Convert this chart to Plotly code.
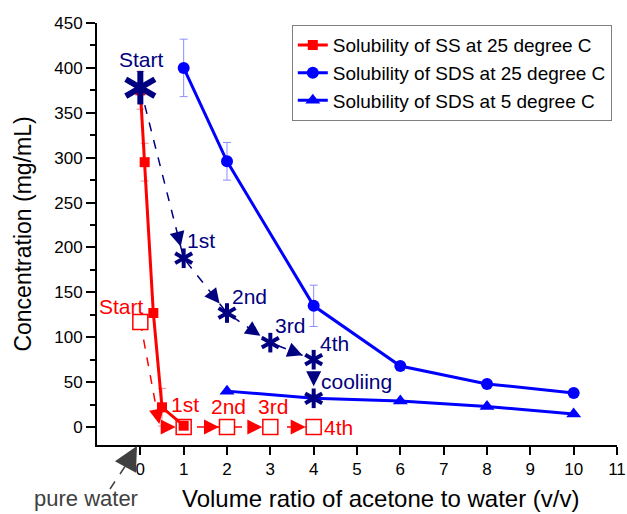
import math
import plotly.graph_objects as go

# ---- data -------------------------------------------------------------
# Solubility of SS at 25 degree C
ss_x = [0, 0.1, 0.3, 0.5, 1]
ss_y = [375, 295, 127, 22, 1.5]
ss_err = [21, 21, 0, 21, 0]

# Solubility of SDS at 25 degree C
sds25_x = [1, 2, 4, 6, 8, 10]
sds25_y = [400, 296, 135, 68, 48, 38]
sds25_err = [32, 21, 23, 0, 0, 0]

# Solubility of SDS at 5 degree C
sds5_x = [2, 4, 6, 8, 10]
sds5_y = [40, 32, 29, 23, 14.5]

# SDS concentration along the washing steps, then cooling
sds_step_x = [0, 1, 2, 3, 4, 4]
sds_step_y = [378, 188, 127, 94, 75, 32]
sds_step_labels = ["Start", "1st", "2nd", "3rd", "4th", "cooliing"]

# SS concentration along the washing steps (route bends at x = 0.45)
ss_route_x = [0, 0.45, 1, 2, 3, 4]
ss_route_y = [117, 0, 0, 0, 0, 0]
ss_step_x = [0, 1, 2, 3, 4]
ss_step_y = [117, 0, 0, 0, 0]
ss_step_labels = ["Start", "1st", "2nd", "3rd", "4th"]

x_ticks = list(range(0, 12))

# ---- style ------------------------------------------------------------
RED = "#FF0000"
BLUE = "#0000FF"
NAVY = "#000080"
GREY = "#404040"
FONT = "Arial, Liberation Sans, sans-serif"

W, H = 627, 514
M_L, M_R, M_T, M_B = 97, 10, 23, 69
X_RANGE = (-1, 11)
Y_RANGE = (-20, 450)
PLOT_W = W - M_L - M_R
PLOT_H = H - M_T - M_B


def to_px(x, y):
    px = M_L + (x - X_RANGE[0]) / (X_RANGE[1] - X_RANGE[0]) * PLOT_W
    py = M_T + (Y_RANGE[1] - y) / (Y_RANGE[1] - Y_RANGE[0]) * PLOT_H
    return px, py


def paper(px, py):
    return (px - M_L) / PLOT_W, (M_T + PLOT_H - py) / PLOT_H


fig = go.Figure()

# SS washing route: dashed red line with open squares
fig.add_trace(go.Scatter(
    x=ss_route_x, y=ss_route_y, mode="lines",
    line=dict(color=RED, width=1.5, dash="dash"),
    showlegend=False, hoverinfo="skip"))
fig.add_trace(go.Scatter(
    x=ss_step_x, y=ss_step_y, mode="markers",
    marker=dict(symbol="square", size=15, color="white",
                line=dict(color=RED, width=1.5)),
    showlegend=False, hoverinfo="skip"))

# Solubility curves
fig.add_trace(go.Scatter(
    x=ss_x, y=ss_y, mode="lines+markers", name="Solubility of SS at 25 degree C",
    line=dict(color=RED, width=3),
    marker=dict(symbol="square", size=10, color=RED),
    error_y=dict(type="data", array=ss_err, color="#FF8C8C", thickness=1, width=4)))
fig.add_trace(go.Scatter(
    x=sds25_x, y=sds25_y, mode="lines+markers", name="Solubility of SDS at 25 degree C",
    line=dict(color=BLUE, width=3),
    marker=dict(symbol="circle", size=12, color=BLUE),
    error_y=dict(type="data", array=sds25_err, color="#8C8CFF", thickness=1, width=4)))
fig.add_trace(go.Scatter(
    x=sds5_x, y=sds5_y, mode="lines+markers", name="Solubility of SDS at 5 degree C",
    line=dict(color=BLUE, width=3),
    marker=dict(symbol="triangle-up", size=13, color=BLUE)))

# SDS washing route: dashed navy line
fig.add_trace(go.Scatter(
    x=sds_step_x, y=sds_step_y, mode="lines",
    line=dict(color=NAVY, width=1.5, dash="dash"),
    showlegend=False, hoverinfo="skip"))


def add_asterisk(xs, ys, size, width):
    # six-armed asterisk built from three rotated bars
    for ang in (0, 60, -60):
        fig.add_trace(go.Scatter(
            x=xs, y=ys, mode="markers",
            marker=dict(symbol="line-ns-open", size=size, angle=ang, color=NAVY,
                        line=dict(color=NAVY, width=width)),
            showlegend=False, hoverinfo="skip"))


add_asterisk(sds_step_x[:1], sds_step_y[:1], 24, 6)
add_asterisk(sds_step_x[1:], sds_step_y[1:], 14, 4)

annotations = []


def arrow_head(xa, ya, xb, yb, color, standoff, size):
    pa, pb = to_px(xa, ya), to_px(xb, yb)
    dx, dy = pb[0] - pa[0], pb[1] - pa[1]
    d = math.hypot(dx, dy)
    ux, uy = dx / d, dy / d
    reach = standoff + 16
    annotations.append(dict(
        x=xb, y=yb, xref="x", yref="y", text="", showarrow=True,
        ax=-ux * reach, ay=-uy * reach, axref="pixel", ayref="pixel",
        arrowhead=2, arrowsize=size, arrowwidth=1.5, arrowcolor=color,
        standoff=standoff))


# heads on the SDS route
for i in range(1, len(sds_step_x)):
    arrow_head(sds_step_x[i - 1], sds_step_y[i - 1], sds_step_x[i], sds_step_y[i],
               NAVY, 12, 2.0)
# heads on the SS route
for i in range(1, len(ss_route_x)):
    arrow_head(ss_route_x[i - 1], ss_route_y[i - 1], ss_route_x[i], ss_route_y[i],
               RED, 3 if i == 1 else 8, 2.0)

# step labels
sds_label_shift = [(1, 28), (17, 18), (22, 17), (20, 17), (21, 16), (43, 17)]
for (x, y, t), (sx, sy) in zip(zip(sds_step_x, sds_step_y, sds_step_labels), sds_label_shift):
    annotations.append(dict(x=x, y=y, xref="x", yref="y", text=t, showarrow=False,
                            xshift=sx, yshift=sy, font=dict(size=21, color=NAVY, family=FONT)))

ss_label_shift = [(-19, 15), (1, 23), (1, 21), (3, 21), (25, 0)]
for (x, y, t), (sx, sy) in zip(zip(ss_step_x, ss_step_y, ss_step_labels), ss_label_shift):
    annotations.append(dict(x=x, y=y, xref="x", yref="y", text=t, showarrow=False,
                            xshift=sx, yshift=sy, font=dict(size=21, color=RED, family=FONT)))

# x-axis title
tx, ty = paper(381, 498)
annotations.append(dict(x=tx, y=ty, xref="paper", yref="paper",
                        text="Volume ratio of acetone to water (v/v)", showarrow=False,
                        xanchor="center", yanchor="middle",
                        font=dict(size=24, color="black", family=FONT)))

# "pure water" note below the x axis
tx, ty = paper(86, 499)
annotations.append(dict(x=tx, y=ty, xref="paper", yref="paper", text="pure water",
                        showarrow=False, xanchor="center", yanchor="middle",
                        font=dict(size=22, color=GREY, family=FONT)))
hx, hy = paper(137, 446)
annotations.append(dict(x=hx, y=hy, xref="paper", yref="paper", text="", showarrow=True,
                        ax=-11, ay=20, arrowhead=2, arrowsize=2.4, arrowwidth=2,
                        arrowcolor=GREY, standoff=0))
lx0, ly0 = paper(110, 489)
lx1, ly1 = paper(126, 465)
shapes = [dict(type="line", xref="paper", yref="paper", x0=lx0, y0=ly0, x1=lx1, y1=ly1,
               line=dict(color=GREY, width=1.5, dash="dash"))]

fig.update_layout(
    width=W, height=H,
    margin=dict(l=M_L, r=M_R, t=M_T, b=M_B, autoexpand=False),
    paper_bgcolor="white", plot_bgcolor="white",
    font=dict(family=FONT, color="black"),
    annotations=annotations, shapes=shapes,
    legend=dict(x=0.99, y=0.995, xanchor="right", yanchor="top",
                bordercolor="#808080", borderwidth=1, bgcolor="white",
                font=dict(size=19, family=FONT), tracegroupgap=0),
    xaxis=dict(range=list(X_RANGE), tickvals=x_ticks, ticktext=[str(v) for v in x_ticks],
               showline=True, linecolor="black", linewidth=2,
               ticks="outside", ticklen=8, tickwidth=2, tickcolor="black",
               showgrid=False, zeroline=False, tickfont=dict(size=17)),
    yaxis=dict(range=list(Y_RANGE), dtick=50, tick0=0,
               showline=True, linecolor="black", linewidth=2,
               ticks="outside", ticklen=9, tickwidth=2, tickcolor="black",
               minor=dict(dtick=25, tick0=0, ticks="outside", ticklen=5, tickwidth=2,
                          tickcolor="black"),
               showgrid=False, zeroline=False, tickfont=dict(size=17),
               title=dict(text="Concentration (mg/mL)", font=dict(size=23), standoff=16)),
)

fig.write_html("out.html")
